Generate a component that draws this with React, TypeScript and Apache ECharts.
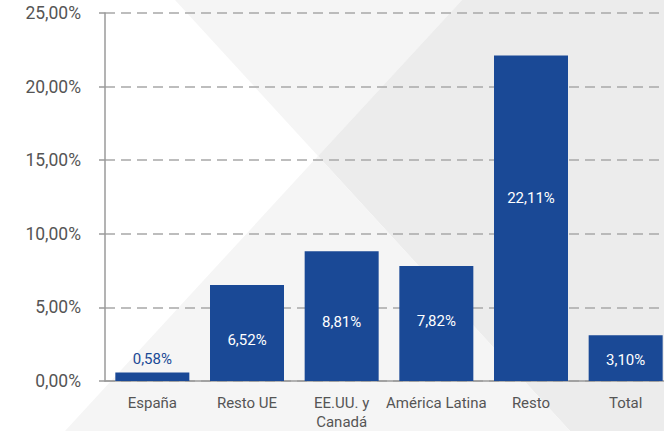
import React, { useEffect, useRef } from "react";
import * as echarts from "echarts";

const categories = ["España", "Resto UE", "EE.UU. y\nCanadá", "América Latina", "Resto", "Total"];
const values = [0.58, 6.52, 8.81, 7.82, 22.11, 3.1];
const labelOffsets = [0, 6.5, 5.5, -2, -20.5, 2];
const yTicks = { min: 0, max: 25, interval: 5 };

const BLUE = "#1a4996";

const fmt = (v: number) => v.toFixed(2).replace(".", ",") + "%";

export default function App() {
  const ref = useRef<HTMLDivElement>(null);
  useEffect(() => {
    if (!ref.current) return;
    const chart = echarts.init(ref.current, null, { renderer: "svg" });
    const data = values.map((v, i) => {
      if (i === 0) {
        return {
          value: v,
          label: { position: "top", distance: 6, color: BLUE },
        };
      }
      return {
        value: v,
        label: { position: "inside", offset: [0, labelOffsets[i]], color: "#ffffff" },
      };
    });
    chart.setOption({
      animation: false,
      backgroundColor: "#ffffff",
      textStyle: { fontFamily: "Roboto" },
      graphic: [
        {
          type: "polygon",
          z: -10,
          silent: true,
          shape: { points: [[175, 0], [462, 0], [318, 156]] },
          style: { fill: "#f5f5f5" },
        },
        {
          type: "polygon",
          z: -10,
          silent: true,
          shape: { points: [[462, 0], [690, 0], [690, 431], [570, 431], [318, 156]] },
          style: { fill: "#ececec" },
        },
        {
          type: "polygon",
          z: -10,
          silent: true,
          shape: { points: [[318, 156], [570, 431], [65, 431]] },
          style: { fill: "#f5f5f5" },
        },
      ],
      grid: { left: 105, top: 13, width: 568, height: 370, containLabel: false },
      xAxis: {
        type: "category",
        data: categories,
        axisLine: { show: true, lineStyle: { color: "#9a9a9a", width: 1.5 } },
        axisTick: { show: false },
        axisLabel: {
          color: "#555555",
          fontSize: 15,
          fontFamily: "Roboto",
          margin: 12,
          lineHeight: 19,
          interval: 0,
        },
        splitLine: { show: false },
      },
      yAxis: {
        type: "value",
        min: yTicks.min,
        max: yTicks.max,
        interval: yTicks.interval,
        axisLine: { show: true, lineStyle: { color: "#9a9a9a", width: 1.5 } },
        axisTick: { show: true, length: 6, lineStyle: { color: "#9a9a9a", width: 1.5 } },
        axisLabel: {
          color: "#555555",
          fontSize: 17.5,
          fontFamily: "Roboto",
          margin: 24,
          padding: [5, 0, 0, 0],
          formatter: (v: number) => fmt(v),
        },
        splitLine: {
          show: true,
          lineStyle: { color: "#a8a8a8", width: 1.5, type: [10, 6] },
        },
      },
      series: [
        {
          type: "bar",
          data,
          barWidth: 74,
          itemStyle: { color: BLUE },
          label: {
            show: true,
            fontSize: 15,
            fontFamily: "Roboto",
            formatter: (p: any) => fmt(p.value),
          },
        },
      ],
    });
    return () => chart.dispose();
  }, []);
  return (
    <div
      style={{ position: "fixed", left: 0, top: 0, width: 664, height: 431, overflow: "hidden" }}
    >
      <div ref={ref} style={{ width: 690, height: 431 }} />
    </div>
  );
}
